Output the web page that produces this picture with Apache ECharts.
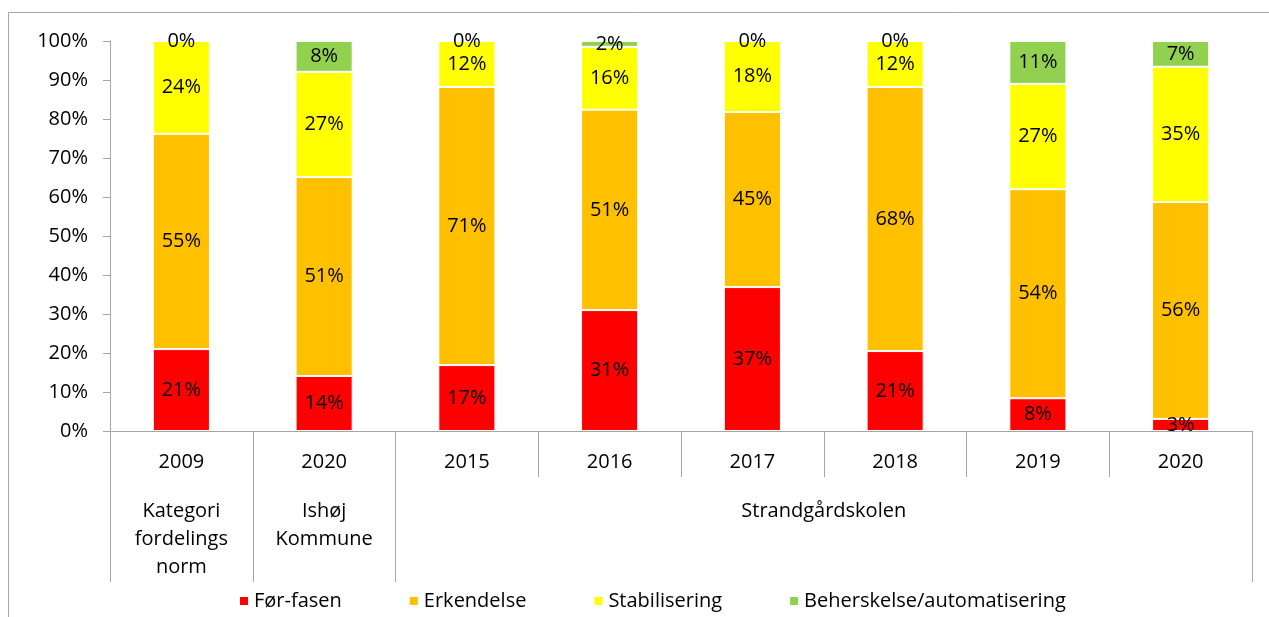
<!DOCTYPE html>
<html lang="da">
<head>
<meta charset="utf-8">
<script src="https://cdn.jsdelivr.net/npm/echarts@6/dist/echarts.min.js"></script>
<style>
    html, body { margin: 0; padding: 0; background: #fff; }
    #main { width: 1269px; height: 617px; }
</style>
</head>
<body>
<div id="main"></div>
<script>
    // kategorier (aar) og grupper
    var years = ['2009', '2020', '2015', '2016', '2017', '2018', '2019', '2020'];
    var groupLabels = ['Kategori\nfordelings\nnorm', 'Ishøj\nKommune', 'Strandgårdskolen'];
    var groupCenters = [0.5, 1.5, 5];
    var groupEdges = [0, 1, 2, 8];

    // andele i procent
    var forFasen    = [21, 14.1, 16.9, 31, 36.9, 20.5, 8.4, 3.1];
    var erkendelse  = [55.2, 51, 71.3, 51.4, 44.9, 67.7, 53.6, 55.6];
    var stabilisering = [23.8, 27, 11.8, 16.1, 18.2, 11.8, 27, 34.7];
    var beherskelse = [0, 7.9, 0, 1.5, 0, 0, 11, 6.6];

    var font = 'Open Sans';
    var fs = 20;
    var axisGray = '#a6a6a6';

    function makeSeries(name, data, color) {
        return {
            name: name,
            type: 'bar',
            stack: 'total',
            xAxisIndex: 0,
            barWidth: '40%',
            data: data,
            itemStyle: { color: color, borderColor: '#fff', borderWidth: 1 },
            label: {
                show: true,
                position: 'inside',
                color: '#000',
                fontFamily: font,
                fontSize: fs,
                formatter: function (p) { return Math.round(p.value) + '%'; }
            }
        };
    }

    var option = {
        animation: false,
        graphic: [{
            type: 'rect',
            shape: { x: 8.5, y: 12.5, width: 1300, height: 700 },
            style: { fill: 'none', stroke: axisGray, lineWidth: 1 },
            silent: true
        }],
        grid: { left: 110, right: 17, top: 41, bottom: 186 },
        legend: {
            bottom: 1,
            left: 233,
            itemWidth: 10,
            itemHeight: 10,
            itemGap: 66,
            icon: 'rect',
            textStyle: { fontFamily: font, fontSize: fs, color: '#000' },
            data: ['Før-fasen', 'Erkendelse', 'Stabilisering', 'Beherskelse/automatisering']
        },
        xAxis: [{
            type: 'category',
            data: years,
            axisLine: { lineStyle: { color: axisGray } },
            axisTick: { show: true, length: 46, lineStyle: { color: axisGray } },
            axisLabel: { color: '#000', fontFamily: font, fontSize: fs, margin: 21, interval: 0 }
        }, {
            type: 'value',
            position: 'bottom',
            offset: 46,
            min: 0,
            max: 8,
            axisLine: { show: false },
            splitLine: { show: false },
            axisTick: { show: true, customValues: groupEdges, length: 105, lineStyle: { color: axisGray } },
            axisLabel: {
                customValues: groupCenters,
                color: '#000',
                fontFamily: font,
                fontSize: fs,
                lineHeight: 28,
                margin: 20,
                formatter: function (v) {
                    var i = groupCenters.indexOf(v);
                    return i >= 0 ? groupLabels[i] : '';
                }
            }
        }],
        yAxis: {
            type: 'value',
            min: 0,
            max: 100,
            interval: 10,
            axisLine: { show: true, lineStyle: { color: axisGray } },
            axisTick: { show: true, length: 7, lineStyle: { color: axisGray } },
            splitLine: { show: false },
            axisLabel: { color: '#000', fontFamily: font, fontSize: fs, margin: 22, formatter: '{value}%' }
        },
        series: [
            makeSeries('Før-fasen', forFasen, '#ff0000'),
            makeSeries('Erkendelse', erkendelse, '#ffc000'),
            makeSeries('Stabilisering', stabilisering, '#ffff00'),
            makeSeries('Beherskelse/automatisering', beherskelse, '#92d050')
        ]
    };

    var myChart = echarts.init(document.getElementById('main'));
    myChart.setOption(option);
</script>
</body>
</html>
